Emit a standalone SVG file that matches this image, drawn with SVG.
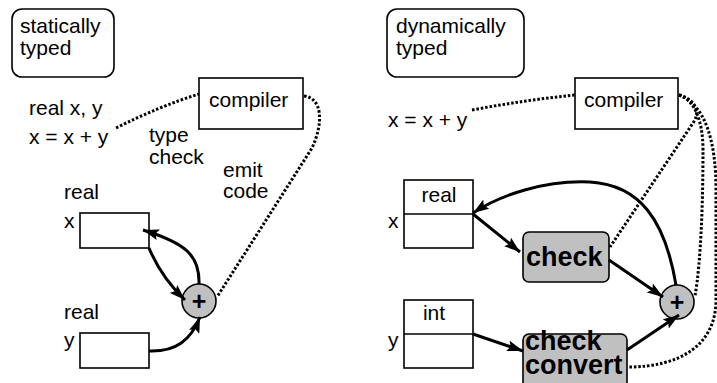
<svg xmlns="http://www.w3.org/2000/svg" width="717" height="383" viewBox="0 0 717 383">
<style>
text{font-family:"Liberation Sans",Arial,sans-serif;font-size:21px;fill:#000}
.b{font-weight:bold;font-size:27px}
.p{font-weight:bold;font-size:25px;text-anchor:middle}
.m{text-anchor:middle}
.box{fill:#fff;stroke:#000;stroke-width:1.6}
.g{fill:#c0c0c0;stroke:#000;stroke-width:1.6}
.a{fill:none;stroke:#000;stroke-width:3;marker-end:url(#ah)}
.d{fill:none;stroke:#000;stroke-width:3;stroke-dasharray:2.5 1.9}
</style>
<defs>
<marker id="ah" markerUnits="userSpaceOnUse" markerWidth="17" markerHeight="11" refX="16" refY="5.5" orient="auto">
<path d="M0,0 L16,5.5 L0,11 L3,5.5 z" fill="#000"/>
</marker>
</defs>
<g id="label-static">
<rect class="box" x="12" y="9" width="102" height="68" rx="10"/>
<text x="20" y="33">statically</text>
<text x="20" y="55">typed</text>
</g>
<g id="code-static">
<text x="29" y="115">real x, y</text>
<text x="29" y="144">x = x + y</text>
</g>
<g id="compiler-static">
<rect class="box" x="199" y="78" width="104" height="51"/>
<text x="209" y="107">compiler</text>
</g>
<g id="notes-static">
<text x="149" y="142">type</text>
<text x="149" y="164">check</text>
<text x="223" y="177">emit</text>
<text x="223" y="198">code</text>
</g>
<g id="x-static">
<text x="64" y="199">real</text>
<text x="64" y="228">x</text>
<rect class="box" x="80" y="213" width="69" height="35"/>
</g>
<g id="y-static">
<text x="64" y="319">real</text>
<text x="64" y="347">y</text>
<rect class="box" x="80" y="333" width="69" height="35"/>
</g>
<g id="plus-static">
<circle class="g" cx="199" cy="301" r="17"/>
<text class="p" x="199" y="310">+</text>
</g>
<g id="label-dynamic">
<rect class="box" x="387" y="9" width="137" height="68" rx="10"/>
<text x="396" y="33">dynamically</text>
<text x="396" y="55">typed</text>
</g>
<g id="code-dynamic">
<text x="388" y="127">x = x + y</text>
</g>
<g id="compiler-dynamic">
<rect class="box" x="575" y="78" width="103" height="51"/>
<text x="584" y="107">compiler</text>
</g>
<g id="x-dynamic">
<text x="388" y="228">x</text>
<rect class="box" x="404" y="180" width="69" height="68"/>
<line x1="404" y1="214" x2="473" y2="214" stroke="#000" stroke-width="1.6"/>
<text class="m" x="439" y="202">real</text>
</g>
<g id="y-dynamic">
<text x="388" y="347">y</text>
<rect class="box" x="404" y="300" width="69" height="68"/>
<line x1="404" y1="334" x2="473" y2="334" stroke="#000" stroke-width="1.6"/>
<text class="m" x="434" y="320">int</text>
</g>
<g id="check">
<rect class="g" x="523" y="232" width="86" height="50" rx="6"/>
<text class="b" x="526" y="266">check</text>
</g>
<g id="check-convert">
<rect class="g" x="523" y="334" width="104" height="56" rx="6"/>
<text class="b" x="525" y="350">check</text>
<text class="b" x="525" y="374">convert</text>
</g>
<g id="plus-dynamic">
<circle class="g" cx="677" cy="302" r="17"/>
<text class="p" x="677" y="311">+</text>
</g>
<g id="connectors">
<path class="d" d="M116,128 Q160,106 199,94"/>
<path class="d" d="M304,96 C322,98 324,122 312,148 L217,297"/>
<path class="a" d="M149,248 Q161,277 185,300"/>
<path class="a" d="M199,284 C200,255 185,243 143,230"/>
<path class="a" d="M149,351 C176,352 191,340 200,317"/>
<path class="d" d="M472,110 Q525,100 575,95"/>
<path class="d" d="M679,95 C692,98 700,108 695,120 L610,247"/>
<path class="d" d="M679,95 C695,100 703,122 703,150 C703,200 701,262 695,296"/>
<path class="d" d="M679,95 C705,105 716,140 716,190 L716,300 C716,345 680,367 628,367"/>
<path class="a" d="M676,285 C665,220 640,185 590,182 C545,180 500,195 473,213"/>
<path class="a" d="M473,214 L520,252"/>
<path class="a" d="M609,260 L663,297"/>
<path class="a" d="M473,334 L523,351"/>
<path class="a" d="M627,350 L679,315"/>
</g>
</svg>
